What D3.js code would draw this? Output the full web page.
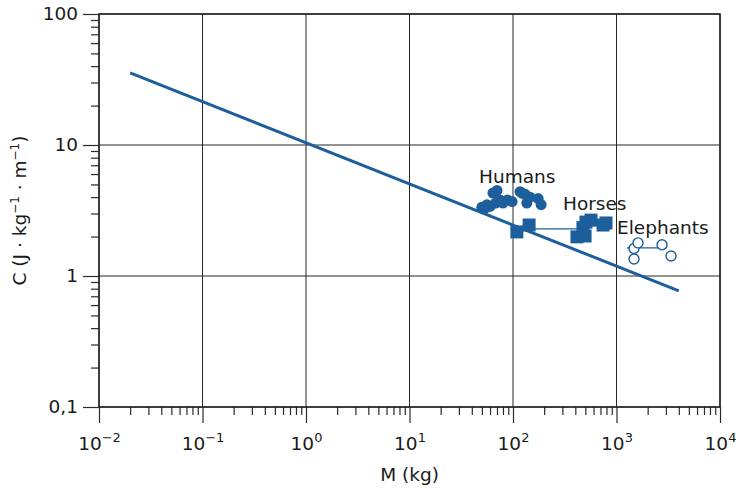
<!DOCTYPE html>
<html>
<head>
<meta charset="utf-8">
<script src="https://cdn.jsdelivr.net/npm/d3@7"></script>
<style>
body { margin: 0; background: #fff; }
text { font-family: "DejaVu Sans", sans-serif; fill: #1a1a1a; }
</style>
</head>
<body>
<div id="chart"></div>
<script>
// decades on the axes
let x_decades = [1e-2, 1e-1, 1e0, 1e1, 1e2, 1e3, 1e4];
let x_exponents = ["−2", "−1", "0", "1", "2", "3", "4"];
let y_decades = [0.1, 1, 10, 100];
let y_labels = ["0,1", "1", "10", "100"];

// fitted line (end points)
let fit_mass = [0.02, 4000];
let fit_cost = [35.5, 0.77];

// humans
let humans_mass = [50, 54, 56, 60, 64, 68, 70, 75, 80, 88, 98, 117, 122, 131, 136, 146, 175, 187];
let humans_cost = [3.35, 3.3, 3.5, 3.4, 4.3, 3.6, 4.5, 3.8, 3.6, 3.8, 3.7, 4.4, 4.3, 4.2, 3.6, 4.0, 3.9, 3.5];

// horses
let horses_mass = [109, 143, 415, 497, 474, 507, 567, 741, 792];
let horses_cost = [2.17, 2.45, 1.99, 2.02, 2.34, 2.58, 2.67, 2.45, 2.54];
let horses_link_mass = [150, 420];
let horses_link_cost = [2.29, 2.29];

// elephants
let elephants_mass = [1476, 1614, 1476, 2754, 3364];
let elephants_cost = [1.62, 1.79, 1.35, 1.73, 1.42];
let elephants_link_mass = [1262, 3050];
let elephants_link_cost = [1.64, 1.64];

// group labels
let group_names = ["Humans", "Horses", "Elephants"];
let group_label_mass = [47, 304, 1012];
let group_label_cost = [5.13, 3.19, 2.09];

let blue = "#1c5f9c";
let font_size = "18.5px";

let chart_width = 740;
let chart_height = 489;
let plot_left = 99, plot_right = 720, plot_top = 14, plot_bottom = 407;

let svg = d3.select("#chart")
    .append("svg")
    .attr("width", chart_width)
    .attr("height", chart_height);

let xScale = d3.scaleLog()
    .domain([1e-2, 1e4])
    .range([plot_left, plot_right]);

let yScale = d3.scaleLog()
    .domain([0.1, 100])
    .range([plot_bottom, plot_top]);

function is_decade(d) {
    let l = Math.log10(d);
    return Math.abs(l - Math.round(l)) < 1e-9;
}

let x_minor = xScale.ticks().filter(function(d) { return !is_decade(d); });
let y_minor = yScale.ticks().filter(function(d) { return !is_decade(d); });

// grid
let grid = svg.append("g");
grid.selectAll(".vgrid")
    .data(x_decades)
    .enter()
    .append("line")
    .attr("x1", function(d) { return xScale(d); })
    .attr("x2", function(d) { return xScale(d); })
    .attr("y1", plot_top)
    .attr("y2", plot_bottom)
    .attr("stroke", "#262626")
    .attr("stroke-width", 1);

grid.selectAll(".hgrid")
    .data(y_decades)
    .enter()
    .append("line")
    .attr("x1", plot_left)
    .attr("x2", plot_right)
    .attr("y1", function(d) { return yScale(d); })
    .attr("y2", function(d) { return yScale(d); })
    .attr("stroke", "#262626")
    .attr("stroke-width", 1);

// axes: minor ticks
svg.append("g")
    .attr("transform", "translate(0," + plot_bottom + ")")
    .call(d3.axisBottom(xScale).tickValues(x_minor).tickSize(8).tickFormat(""))
    .call(function(g) { g.select(".domain").remove(); })
    .selectAll("line").attr("stroke", "#2a2a2a").attr("stroke-width", 1.2);

svg.append("g")
    .attr("transform", "translate(" + plot_left + ",0)")
    .call(d3.axisLeft(yScale).tickValues(y_minor).tickSize(8).tickFormat(""))
    .call(function(g) { g.select(".domain").remove(); })
    .selectAll("line").attr("stroke", "#2a2a2a").attr("stroke-width", 1.2);

// axes: major ticks
let x_axis = svg.append("g")
    .attr("transform", "translate(0," + plot_bottom + ")")
    .call(d3.axisBottom(xScale).tickValues(x_decades).tickSize(16).tickFormat(""));
x_axis.select(".domain").remove();
x_axis.selectAll("line").attr("stroke", "#2a2a2a").attr("stroke-width", 1.2);
x_axis.selectAll(".tick").each(function(d, i) {
    let t = d3.select(this).append("text")
        .attr("y", 43)
        .attr("text-anchor", "middle")
        .style("font-size", font_size)
        .style("fill", "#1a1a1a");
    t.append("tspan").text("10");
    t.append("tspan")
        .attr("dy", -8)
        .style("font-size", "13px")
        .text(x_exponents[i]);
});

let y_axis = svg.append("g")
    .attr("transform", "translate(" + plot_left + ",0)")
    .call(d3.axisLeft(yScale).tickValues(y_decades).tickSize(16)
        .tickFormat(function(d, i) { return y_labels[i]; }));
y_axis.select(".domain").remove();
y_axis.selectAll("line").attr("stroke", "#2a2a2a").attr("stroke-width", 1.2);
y_axis.selectAll("text")
    .attr("x", -21)
    .style("font-size", font_size)
    .style("font-family", "DejaVu Sans")
    .style("fill", "#1a1a1a");

// frame
svg.append("rect")
    .attr("x", plot_left)
    .attr("y", plot_top)
    .attr("width", plot_right - plot_left)
    .attr("height", plot_bottom - plot_top)
    .attr("fill", "none")
    .attr("stroke", "#222")
    .attr("stroke-width", 1.5);

// fitted line
let chart_line = d3.line()
    .x(function(d) { return xScale(d[0]); })
    .y(function(d) { return yScale(d[1]); });

svg.append("path")
    .attr("d", chart_line(d3.zip(fit_mass, fit_cost)))
    .attr("stroke", blue)
    .attr("stroke-width", 3)
    .attr("fill", "none");

// link lines
svg.append("path")
    .attr("d", chart_line(d3.zip(horses_link_mass, horses_link_cost)))
    .attr("stroke", blue)
    .attr("stroke-width", 1.3)
    .attr("fill", "none");

svg.append("path")
    .attr("d", chart_line(d3.zip(elephants_link_mass, elephants_link_cost)))
    .attr("stroke", blue)
    .attr("stroke-width", 1.3)
    .attr("fill", "none");

// humans
svg.append("g").selectAll("circle")
    .data(d3.zip(humans_mass, humans_cost))
    .enter()
    .append("circle")
    .attr("cx", function(d) { return xScale(d[0]); })
    .attr("cy", function(d) { return yScale(d[1]); })
    .attr("r", 5.5)
    .attr("fill", blue);

// horses
let sq = 13;
svg.append("g").selectAll("rect")
    .data(d3.zip(horses_mass, horses_cost))
    .enter()
    .append("rect")
    .attr("x", function(d) { return xScale(d[0]) - sq / 2; })
    .attr("y", function(d) { return yScale(d[1]) - sq / 2; })
    .attr("width", sq)
    .attr("height", sq)
    .attr("fill", blue);

// elephants
svg.append("g").selectAll("circle")
    .data(d3.zip(elephants_mass, elephants_cost))
    .enter()
    .append("circle")
    .attr("cx", function(d) { return xScale(d[0]); })
    .attr("cy", function(d) { return yScale(d[1]); })
    .attr("r", 5)
    .attr("fill", "white")
    .attr("stroke", blue)
    .attr("stroke-width", 1.4);

// group labels
svg.selectAll(".group_label")
    .data(group_names)
    .enter()
    .append("text")
    .attr("class", "group_label")
    .attr("x", function(d, i) { return xScale(group_label_mass[i]); })
    .attr("y", function(d, i) { return yScale(group_label_cost[i]); })
    .style("font-size", font_size)
    .text(function(d) { return d; });

// axis titles
svg.append("text")
    .attr("text-anchor", "middle")
    .attr("x", (plot_left + plot_right) / 2)
    .attr("y", 481)
    .style("font-size", font_size)
    .text("M (kg)");

let ylab = svg.append("text")
    .attr("text-anchor", "middle")
    .attr("transform", "translate(26," + ((plot_top + plot_bottom) / 2) + ") rotate(-90)")
    .style("font-size", font_size);
ylab.append("tspan").text("C (J · kg");
ylab.append("tspan").attr("dy", -7).style("font-size", "12px").text("−1");
ylab.append("tspan").attr("dy", 7).text(" · m");
ylab.append("tspan").attr("dy", -7).style("font-size", "12px").text("−1");
ylab.append("tspan").attr("dy", 7).text(")");
</script>
</body>
</html>
